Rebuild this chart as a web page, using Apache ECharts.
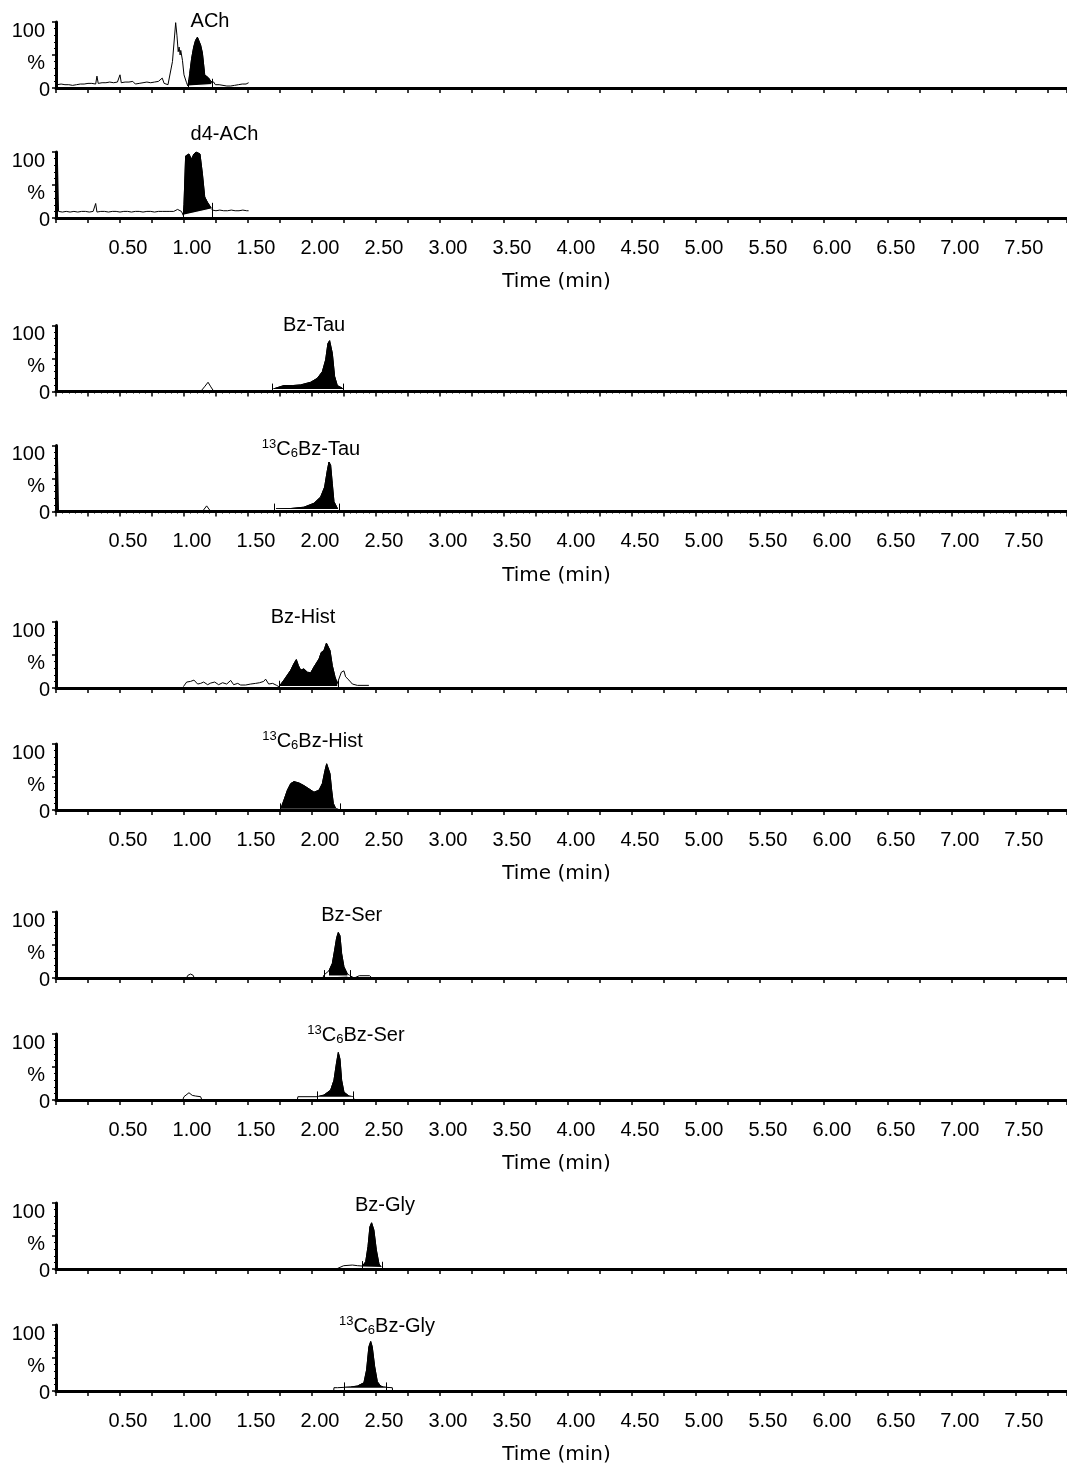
<!DOCTYPE html>
<html lang="en">
<head>
<meta charset="UTF-8" />
<title>Chromatograms</title>
<style>
  html, body { margin: 0; background: #fff; }
  #main { width: 1067px; height: 1469px; }
</style>
</head>
<body>
<div id="main"></div>
<script src="https://cdn.jsdelivr.net/npm/echarts@6/dist/echarts.min.js"></script>
<script>
// compound names, one per panel (top to bottom)
const names = ['ACh', 'd4-ACh', 'Bz-Tau', '13C6Bz-Tau', 'Bz-Hist', '13C6Bz-Hist',
  'Bz-Ser', '13C6Bz-Ser', 'Bz-Gly', '13C6Bz-Gly']

// tick labels on the time axis (min)
const timeLabels = ['0.50', '1.00', '1.50', '2.00', '2.50', '3.00', '3.50', '4.00',
  '4.50', '5.00', '5.50', '6.00', '6.50', '7.00', '7.50']

// traces: [time (min), intensity (%)]
const achTrace = [[0.01,5],[0.025,4],[0.04,6],[0.055,4],[0.07,5],[0.085,7],[0.10,5],[0.115,6],[0.13,4],
  [0.145,7],[0.16,5],[0.175,8],[0.19,6],[0.205,9],[0.22,6],[0.235,8],[0.25,7],[0.265,10],[0.28,7],[0.295,9],
  [0.31,6],[0.32,18],[0.33,7],[0.345,10],[0.36,8],[0.375,11],[0.39,8],[0.405,10],[0.42,9],[0.435,11],
  [0.45,8],[0.465,10],[0.48,9],[0.495,12],[0.50,20],[0.51,8],[0.525,11],[0.54,9],[0.555,12],[0.57,9],
  [0.585,11],[0.60,10],[0.61,12],[0.62,6],[0.635,9],[0.65,7],[0.665,10],[0.68,8],[0.695,6],[0.71,9],
  [0.725,7],[0.74,8],[0.755,6],[0.77,9],[0.785,7],[0.80,10],[0.815,8],[0.83,15],[0.845,7],[0.86,6],
  [0.875,5],[0.89,3],[0.91,40],[0.935,99],[0.945,80],[0.955,55],[0.962,62],[0.97,50],[0.975,57],
  [0.988,42],[1.00,20],[1.02,8],[1.03,3],[1.037,3],[1.045,22],[1.06,45],[1.076,62],[1.09,72],[1.105,77],
  [1.115,76],[1.13,65],[1.144,53],[1.162,20],[1.175,18],[1.193,15],[1.21,10],[1.222,7],[1.232,9],
  [1.245,5],[1.26,7],[1.275,5],[1.29,6],[1.305,4],[1.32,5],[1.335,3],[1.35,4],[1.365,3],[1.38,3],
  [1.395,4],[1.41,3],[1.425,5],[1.44,4],[1.455,6],[1.47,7],[1.485,6],[1.505,8]]
const d4AchTrace = [[0.01,100],[0.02,10],[0.035,11],[0.05,9],[0.065,12],[0.08,10],[0.095,11],[0.11,9],
  [0.125,11],[0.14,10],[0.155,12],[0.17,9],[0.185,11],[0.20,10],[0.215,12],[0.23,10],[0.245,11],[0.26,9],
  [0.275,11],[0.29,10],[0.30,12],[0.31,22],[0.32,9],[0.335,11],[0.35,10],[0.365,12],[0.38,10],[0.395,11],
  [0.41,9],[0.425,11],[0.44,10],[0.455,12],[0.47,10],[0.485,11],[0.50,9],[0.515,11],[0.53,10],[0.545,12],
  [0.56,10],[0.575,11],[0.59,9],[0.605,11],[0.62,10],[0.635,12],[0.65,10],[0.665,11],[0.68,9],[0.695,11],
  [0.71,10],[0.725,12],[0.74,10],[0.755,11],[0.77,9],[0.785,12],[0.80,10],[0.815,11],[0.83,10],[0.845,12],
  [0.86,10],[0.875,11],[0.89,10],[0.905,12],[0.92,10],[0.935,11],[0.95,13],[0.965,11],[0.98,10],[0.995,4],
  [1.0,20],[1.013,94],[1.025,96],[1.039,97],[1.058,89],[1.078,97],[1.095,100],[1.105,100],[1.125,97],
  [1.144,67],[1.162,32],[1.183,24],[1.203,18],[1.222,12],[1.235,9],[1.25,11],[1.265,10],[1.28,12],
  [1.295,10],[1.31,11],[1.325,9],[1.34,11],[1.355,10],[1.37,12],[1.385,10],[1.40,11],[1.415,9],[1.43,11],
  [1.445,10],[1.46,12],[1.475,10],[1.49,11],[1.505,11]]
const bzTauTrace = [[1.13,0],[1.16,7],[1.188,14],[1.21,7],[1.234,0],[1.691,0],[1.70,4],[1.781,9],[1.85,9],
  [1.912,10],[1.99,14],[2.042,20],[2.081,30],[2.107,48],[2.125,73],[2.138,77],[2.159,58],[2.177,23],
  [2.198,9],[2.237,5],[2.245,0]]
const c6TauTrace = [[0.01,100],[0.02,0],[1.144,0],[1.177,8.5],[1.209,0],[1.709,0],[1.72,4],[1.834,4.5],
  [1.937,6.5],[2.016,12.5],[2.068,22],[2.099,37],[2.12,62],[2.133,75],[2.146,70],[2.159,42],[2.172,15],
  [2.198,5],[2.211,0]]
const bzHistTrace = [[0.995,2],[1.021,9],[1.052,10],[1.078,12],[1.107,6],[1.13,7],[1.154,9],[1.185,5],
  [1.209,7.5],[1.24,9],[1.271,5],[1.302,8],[1.334,6],[1.365,11.5],[1.388,5],[1.42,7],[1.443,4.5],[1.482,4.5],
  [1.521,6],[1.56,7],[1.591,8],[1.623,10],[1.638,13.4],[1.662,6],[1.693,7],[1.724,4],[1.742,2],[1.781,12],
  [1.834,27],[1.859,37],[1.878,43],[1.894,34],[1.912,27],[1.937,29],[1.964,24],[1.99,23],[2.016,32],
  [2.055,44],[2.073,54],[2.094,57],[2.113,68],[2.128,71],[2.141,57],[2.159,34],[2.18,17],[2.198,7],
  [2.211,7],[2.23,24],[2.25,26],[2.263,17],[2.289,12],[2.316,6],[2.355,4],[2.445,4]]
const c6HistTrace = [[1.755,1],[1.781,15],[1.808,30],[1.834,40],[1.859,43],[1.898,41],[1.937,37],[1.977,32],
  [2.016,27],[2.055,30],[2.081,40],[2.102,60],[2.115,70],[2.128,73],[2.141,55],[2.154,30],[2.167,10],
  [2.185,2.5],[2.219,0]]
const bzSerTrace = [[1.02,0],[1.03,4],[1.052,6],[1.072,4],[1.08,0],[2.085,0],[2.094,4.5],[2.133,11],
  [2.159,22],[2.177,42],[2.193,61],[2.206,69],[2.219,64],[2.232,37],[2.25,17],[2.277,6],[2.302,3],[2.33,0],
  [2.37,3.5],[2.45,3.5],[2.47,0]]
const c6SerTrace = [[0.99,0],[1.0,5],[1.039,11],[1.065,7],[1.091,6],[1.13,5],[1.14,0],[1.886,0],[1.89,5],
  [2.042,5],[2.094,7.5],[2.146,15],[2.172,30],[2.191,55],[2.206,72],[2.219,62],[2.232,30],[2.25,12],
  [2.289,6],[2.323,5],[2.33,0]]
const bzGlyTrace = [[2.19,0],[2.198,3],[2.248,5],[2.316,6],[2.357,5],[2.394,4.5],[2.42,11],[2.438,34],
  [2.453,64],[2.466,70],[2.484,59],[2.503,29],[2.523,8.5],[2.537,3.5],[2.55,2],[2.56,0]]
const c6GlyTrace = [[2.17,0],[2.172,5],[2.2,5],[2.25,5.5],[2.3,6],[2.355,7.5],[2.406,12.5],[2.427,32],
  [2.445,67],[2.459,75],[2.471,67],[2.49,37],[2.511,14],[2.537,7.5],[2.56,6],[2.584,5.5],[2.628,5],[2.63,0]]

const traces = [achTrace, d4AchTrace, bzTauTrace, c6TauTrace, bzHistTrace, c6HistTrace,
  bzSerTrace, c6SerTrace, bzGlyTrace, c6GlyTrace]

// integrated peak: [start time, start %, end time, end %]
const integration = [[1.037,3,1.222,5],[0.995,4,1.222,14],[1.691,3,2.245,3],[1.709,3,2.211,3],
  [1.742,2,2.205,2],[1.755,1,2.219,1],[2.1,3,2.297,3],[2.042,4,2.323,4],[2.394,3,2.55,2],[2.25,4,2.584,4]]

// layout
const baselines = [88, 218, 391.5, 511.5, 688, 810, 978, 1100, 1269, 1391]
const panelH = 66
const labelPos = [[210,21],[224.5,134],[314,325],[311,449],[303,617],[312.5,741],
  [351.7,915.7],[356,1035],[385,1205],[387,1326]]

const FONT = 'Liberation Sans'

function richName(n) {
  if (n.indexOf('13C6') === 0) return '{sup|13}{n|C}{sub|6}{n|' + n.slice(4) + '}'
  return '{n|' + n + '}'
}

let myChart = echarts.init(document.getElementById('main'))

let grids = [], xAxes = [], yAxes = [], series = []
baselines.forEach(function (b, i) {
  let bottom = i % 2 === 1
  grids.push({ left: 56, right: 0, top: b - panelH, height: panelH, outerBoundsMode: 'none', containLabel: false })
  xAxes.push({
    type: 'value', gridIndex: i, min: 0, max: 7.9, interval: 0.25, z: 5,
    axisLine: { onZero: false, lineStyle: { color: '#000', width: 3 } },
    axisTick: { show: true, length: 5, lineStyle: { color: '#000', width: 1.5 } },
    minorTick: { show: true, splitNumber: 5, length: 2, lineStyle: { color: '#000', width: 1 } },
    splitLine: { show: false },
    axisLabel: {
      show: bottom, margin: 20, padding: [0, 0, 0, 16],
      fontFamily: FONT, fontSize: 20, color: '#000',
      formatter: function (v) {
        let s = v.toFixed(2)
        return timeLabels.indexOf(s) >= 0 ? s : ''
      }
    },
    name: bottom ? 'Time (min)' : '',
    nameLocation: 'middle', nameGap: 54,
    nameTextStyle: { fontFamily: 'DejaVu Sans', fontSize: 20, color: '#000', padding: [0, 10, 0, 0] }
  })
  yAxes.push({
    type: 'value', gridIndex: i, min: 0, max: 100, interval: 50, z: 5,
    axisLine: { show: true, lineStyle: { color: '#000', width: 3 } },
    axisTick: { show: true, length: 4, lineStyle: { color: '#000', width: 1.5 } },
    minorTick: { show: true, splitNumber: 5, length: 2, lineStyle: { color: '#000', width: 1 } },
    splitLine: { show: false },
    axisLabel: {
      margin: 6,
      formatter: function (v) { return v === 100 ? '{a|100}' : v === 50 ? '{b|%}' : '{c|0}' },
      rich: {
        a: { fontFamily: FONT, fontSize: 20, color: '#000', padding: [18, 5, 0, 0] },
        b: { fontFamily: FONT, fontSize: 20, color: '#000', padding: [16, 5, 0, 0] },
        c: { fontFamily: FONT, fontSize: 20, color: '#000', padding: [4, 0, 0, 0] }
      }
    }
  })

  let tr = traces[i]
  let ig = integration[i]
  series.push({
    type: 'line', xAxisIndex: i, yAxisIndex: i, data: tr, symbol: 'none', silent: true,
    lineStyle: { color: '#000', width: 1 }, animation: false
  })
  series.push({
    type: 'line', xAxisIndex: i, yAxisIndex: i, symbol: 'none', silent: true, animation: false,
    data: tr.filter(function (p) { return p[0] >= ig[0] && p[0] <= ig[2] }),
    lineStyle: { color: '#000', width: 1 },
    areaStyle: { color: '#000', opacity: 1 }
  })
  // integration baseline: white gap under it, with end markers
  series.push({
    type: 'line', xAxisIndex: i, yAxisIndex: i, symbol: 'none', silent: true, animation: false,
    data: [[ig[0], ig[1]], [ig[2], ig[3]]],
    lineStyle: { color: '#fff', width: 1.2 },
    areaStyle: { color: '#fff', opacity: 1 },
    markLine: {
      silent: true, symbol: 'none', animation: false, label: { show: false },
      lineStyle: { color: '#000', width: 1, type: 'solid' },
      data: [
        [{ coord: [ig[0], 0] }, { coord: [ig[0], ig[1] + 9] }],
        [{ coord: [ig[2], 0] }, { coord: [ig[2], ig[3] + 9] }]
      ]
    }
  })
})

let option = {
  backgroundColor: '#fff',
  animation: false,
  grid: grids,
  xAxis: xAxes,
  yAxis: yAxes,
  series: series,
  graphic: names.map(function (n, i) {
    return {
      type: 'text', x: labelPos[i][0], y: labelPos[i][1], silent: true,
      style: {
        text: richName(n), align: 'center', verticalAlign: 'middle',
        textAlign: 'center', textVerticalAlign: 'middle',
        fontFamily: FONT, fontSize: 20, fill: '#000',
        rich: {
          n: { fontFamily: FONT, fontSize: 20, fill: '#000' },
          sup: { fontFamily: FONT, fontSize: 13, fill: '#000', padding: [0, 0, 10, 0] },
          sub: { fontFamily: FONT, fontSize: 13, fill: '#000', padding: [9, 0, 0, 0] }
        }
      }
    }
  })
}
myChart.setOption(option)
</script>
</body>
</html>
